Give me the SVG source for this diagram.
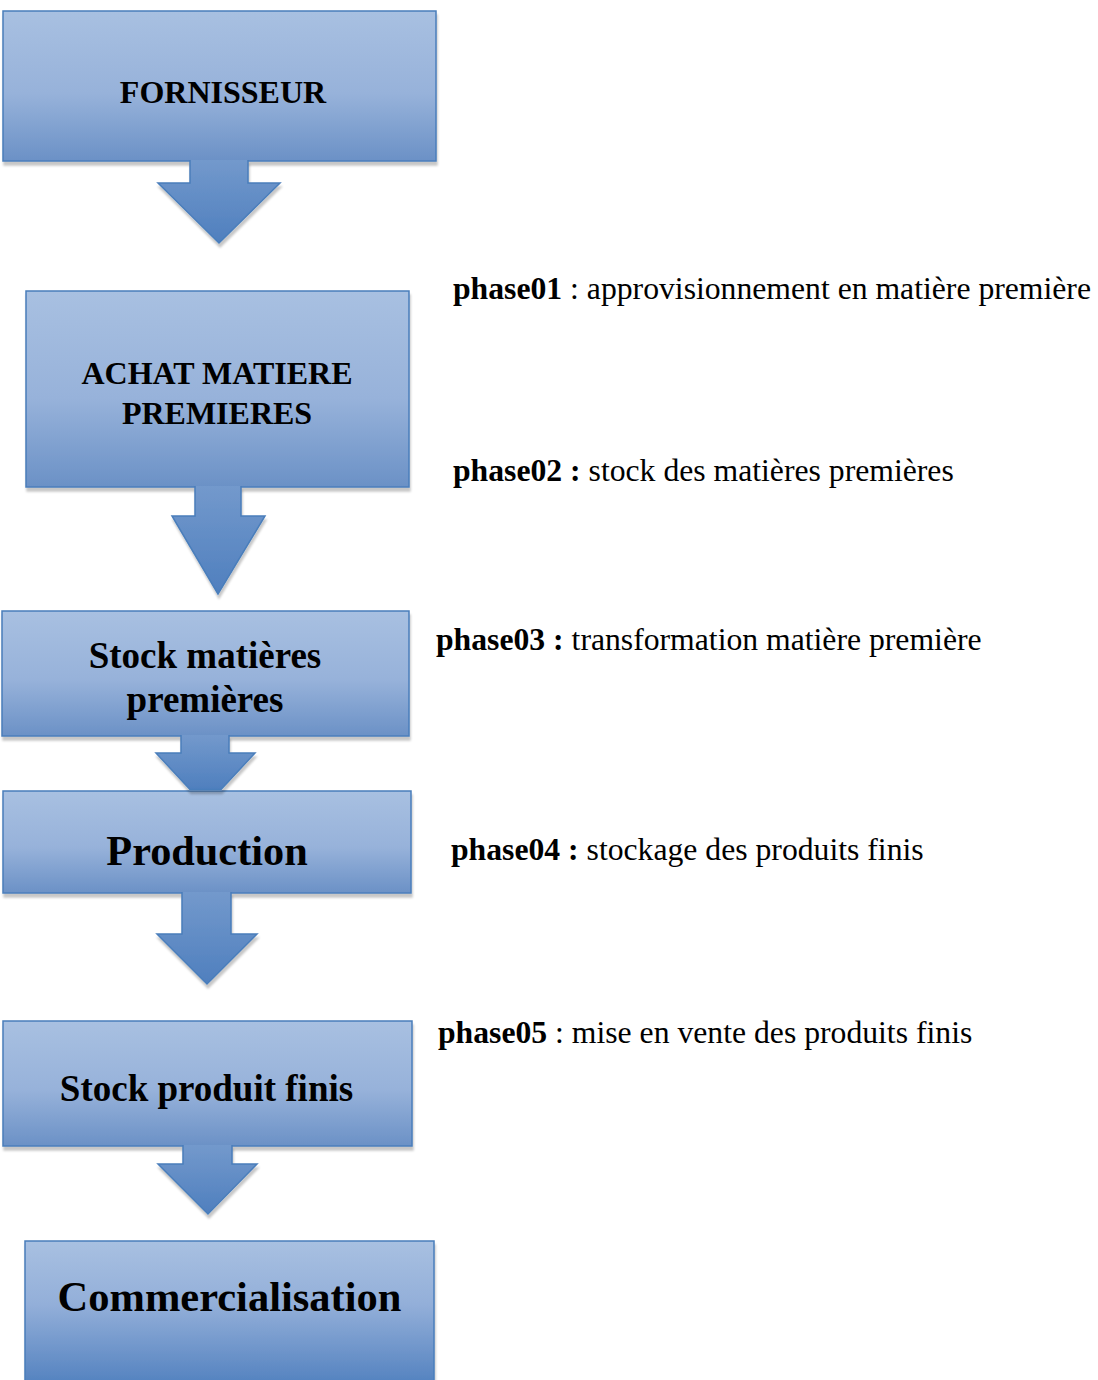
<svg xmlns="http://www.w3.org/2000/svg" width="1098" height="1380" viewBox="0 0 1098 1380">
  <defs>
    <linearGradient id="gBox" x1="0" y1="0" x2="0" y2="1">
      <stop offset="0" stop-color="#a8c0e1"/>
      <stop offset="0.55" stop-color="#97b2da"/>
      <stop offset="1" stop-color="#6b91c6"/>
    </linearGradient>
    <linearGradient id="gBoxLast" x1="0" y1="0" x2="0" y2="1">
      <stop offset="0" stop-color="#a8c0e1"/>
      <stop offset="0.45" stop-color="#93afd9"/>
      <stop offset="1" stop-color="#5583c0"/>
    </linearGradient>
    <linearGradient id="gArrow" x1="0" y1="0" x2="0" y2="1">
      <stop offset="0" stop-color="#7399cc"/>
      <stop offset="1" stop-color="#4f7fbe"/>
    </linearGradient>
    <filter id="shadow" x="-5%" y="-5%" width="115%" height="120%">
      <feDropShadow dx="1" dy="4" stdDeviation="1.2" flood-color="#000" flood-opacity="0.22"/>
    </filter>
  </defs>
  <style>
    .box { fill: url(#gBox); stroke: #4a7ebb; stroke-width: 1.5; filter: url(#shadow); }
    .arrow { fill: url(#gArrow); stroke: #4a7ebb; stroke-width: 1.5; filter: url(#shadow); }
    .lbl { font-family: "Liberation Serif", "Times New Roman", serif; font-weight: bold; fill: #000; text-anchor: middle; }
    .phase { font-family: "Liberation Serif", "Times New Roman", serif; font-size: 31.7px; fill: #000; }
    .b { font-weight: bold; }
  </style>

  <g id="node-fornisseur">
    <rect class="box" x="3" y="11" width="433" height="150"/>
    <text class="lbl" x="223" y="103" font-size="32">FORNISSEUR</text>
  </g>
  <g id="node-achat">
    <rect class="box" x="26" y="291" width="383" height="196"/>
    <text class="lbl" x="217" y="384" font-size="32">ACHAT MATIERE</text>
    <text class="lbl" x="217" y="424" font-size="32">PREMIERES</text>
  </g>
  <g id="node-stock-mp">
    <rect class="box" x="2" y="611" width="407" height="125"/>
    <text class="lbl" x="205" y="668" font-size="37">Stock matières</text>
    <text class="lbl" x="205" y="712" font-size="37">premières</text>
  </g>
  <g id="node-production">
    <rect class="box" x="3" y="791" width="408" height="102"/>
    <text class="lbl" x="207" y="865" font-size="42.3">Production</text>
  </g>
  <g id="node-stock-pf">
    <rect class="box" x="3" y="1021" width="409" height="125"/>
    <text class="lbl" x="206.5" y="1101" font-size="37">Stock produit finis</text>
  </g>
  <g id="node-commercialisation">
    <rect class="box" x="25" y="1241" width="409" height="141" style="fill:url(#gBoxLast)"/>
    <text class="lbl" x="229.5" y="1311" font-size="42.5">Commercialisation</text>
  </g>

  <g id="connectors">
    <path class="arrow" d="M190,160 L190,183 L158,183 L219,243 L280,183 L248,183 L248,160"/>
    <path class="arrow" d="M195,486 L195,516 L172,516 L218,594 L265,516 L241,516 L241,486"/>
    <path class="arrow" d="M181,735 L181,753 L156,753 L190,789.5 L221,789.5 L255,753 L229,753 L229,735"/>
    <path class="arrow" d="M182,892 L182,934 L157,934 L207,984 L257,934 L231,934 L231,892"/>
    <path class="arrow" d="M183,1145 L183,1164 L158,1164 L208,1214 L257,1164 L232,1164 L232,1145"/>
  </g>

  <g id="phases">
    <text class="phase" x="453" y="299"><tspan class="b">phase01</tspan> : approvisionnement en matière première</text>
    <text class="phase" x="453" y="481"><tspan class="b">phase02 :</tspan> stock des matières premières</text>
    <text class="phase" x="436" y="650"><tspan class="b">phase03 :</tspan> transformation matière première</text>
    <text class="phase" x="451" y="860"><tspan class="b">phase04 :</tspan> stockage des produits finis</text>
    <text class="phase" x="438" y="1043"><tspan class="b">phase05</tspan> : mise en vente des produits finis</text>
  </g>
</svg>
